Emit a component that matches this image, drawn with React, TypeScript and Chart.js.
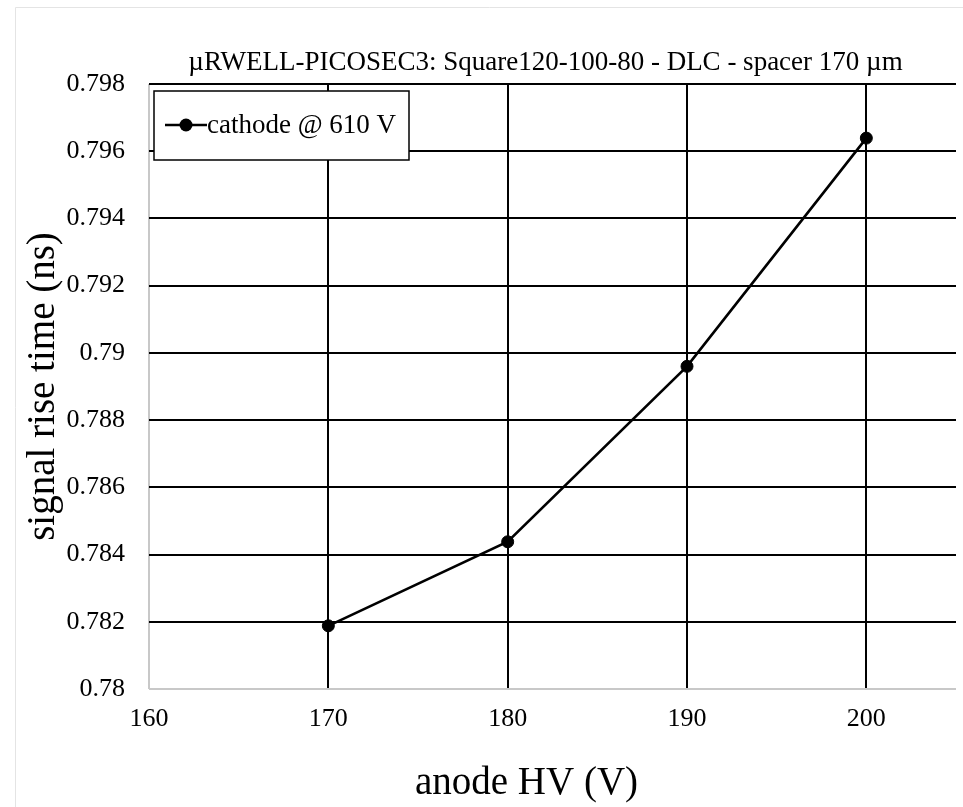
import React, { useEffect, useRef } from 'react';
import { Chart, registerables } from 'chart.js';

Chart.register(...registerables);

const chartTitle = 'µRWELL-PICOSEC3: Square120-100-80 - DLC - spacer 170 µm';
const xAxisTitle = 'anode HV (V)';
const yAxisTitle = 'signal rise time (ns)';
const seriesLabel = 'cathode @ 610 V';

const anodeHV = [170, 180, 190, 200];
const riseTime = [0.78188, 0.78438, 0.7896, 0.79639];

const xTicks = [160, 170, 180, 190, 200];
const xTickLabels = ['160', '170', '180', '190', '200'];
const yTicks = [0.78, 0.782, 0.784, 0.786, 0.788, 0.79, 0.792, 0.794, 0.796, 0.798];
const yTickLabels = ['0.78', '0.782', '0.784', '0.786', '0.788', '0.79', '0.792', '0.794', '0.796', '0.798'];

const X_MIN = 160;
const X_MAX = 205;
const Y_MIN = 0.78;
const Y_MAX = 0.798;

const FONT = '"Liberation Serif", "Times New Roman", serif';
const GRID = '#000000';
const AXIS = '#c8c8c8';

const overlay = {
  id: 'overlay',
  beforeDraw(chart: any) {
    const { ctx, width, height } = chart;
    ctx.save();
    ctx.fillStyle = '#ffffff';
    ctx.fillRect(0, 0, width, height);
    ctx.strokeStyle = '#e4e4e4';
    ctx.lineWidth = 1;
    ctx.beginPath();
    ctx.moveTo(15.5, height);
    ctx.lineTo(15.5, 7.5);
    ctx.lineTo(width, 7.5);
    ctx.stroke();
    ctx.restore();
  },
  afterDraw(chart: any) {
    const { ctx, chartArea } = chart;
    const midX = (chartArea.left + chartArea.right) / 2;
    const midY = (chartArea.top + chartArea.bottom) / 2;
    ctx.save();
    ctx.fillStyle = '#000';
    ctx.textBaseline = 'alphabetic';

    // chart title
    ctx.font = `27px ${FONT}`;
    ctx.textAlign = 'center';
    ctx.fillText(chartTitle, midX - 7, 70);

    // x axis title
    ctx.font = `39px ${FONT}`;
    ctx.fillText(xAxisTitle, midX - 26, 794);

    // y axis title
    ctx.save();
    ctx.translate(54, midY);
    ctx.rotate(-Math.PI / 2);
    ctx.textAlign = 'center';
    ctx.fillText(yAxisTitle, 0, 0);
    ctx.restore();

    // legend
    const bx = chartArea.left + 5;
    const by = chartArea.top + 7;
    const bw = 255;
    const bh = 69;
    ctx.fillStyle = '#fff';
    ctx.fillRect(bx, by, bw, bh);
    ctx.strokeStyle = '#000';
    ctx.lineWidth = 1.5;
    ctx.strokeRect(bx, by, bw, bh);
    const sy = by + 34;
    ctx.lineWidth = 2.5;
    ctx.beginPath();
    ctx.moveTo(bx + 11, sy);
    ctx.lineTo(bx + 53, sy);
    ctx.stroke();
    ctx.beginPath();
    ctx.arc(bx + 32, sy, 6.5, 0, Math.PI * 2);
    ctx.fillStyle = '#000';
    ctx.fill();
    ctx.font = `27px ${FONT}`;
    ctx.textAlign = 'left';
    ctx.fillText(chart.data.datasets[0].label, bx + 53, by + 42);
    ctx.restore();
  },
};

export default function App() {
  const canvasRef = useRef<HTMLCanvasElement | null>(null);

  useEffect(() => {
    const canvas = canvasRef.current;
    if (!canvas) return;
    const chart = new Chart(canvas, {
      type: 'line',
      data: {
        datasets: [
          {
            label: seriesLabel,
            data: anodeHV.map((x, i) => ({ x, y: riseTime[i] })),
            borderColor: '#000',
            backgroundColor: '#000',
            borderWidth: 2.6,
            pointRadius: 6,
            pointBorderWidth: 1,
            pointBackgroundColor: '#000',
            pointBorderColor: '#000',
            tension: 0,
            fill: false,
          },
        ],
      },
      options: {
        responsive: false,
        animation: false,
        devicePixelRatio: 1,
        layout: { padding: { top: 84, left: 0, right: 1, bottom: 0 } },
        plugins: {
          legend: { display: false },
          title: { display: false },
          tooltip: { enabled: false },
        },
        scales: {
          x: {
            type: 'linear',
            min: X_MIN,
            max: X_MAX,
            afterBuildTicks: (scale: any) => {
              scale.ticks = xTicks.map((v) => ({ value: v }));
            },
            afterFit: (scale: any) => {
              scale.height = 118;
            },
            ticks: {
              autoSkip: false,
              maxRotation: 0,
              padding: 15,
              color: '#000',
              font: { family: FONT, size: 26 },
              callback: (_v: any, i: number) => xTickLabels[i],
            },
            grid: {
              drawTicks: false,
              lineWidth: 2,
              color: (c: any) => (c.index === 0 ? AXIS : GRID),
            },
            border: { display: false },
          },
          y: {
            type: 'linear',
            min: Y_MIN,
            max: Y_MAX,
            afterBuildTicks: (scale: any) => {
              scale.ticks = yTicks.map((v) => ({ value: v }));
            },
            afterFit: (scale: any) => {
              scale.width = 149;
            },
            ticks: {
              autoSkip: false,
              padding: 24,
              color: '#000',
              font: { family: FONT, size: 26 },
              callback: (_v: any, i: number) => yTickLabels[i],
            },
            grid: {
              drawTicks: false,
              lineWidth: 2,
              color: (c: any) => (c.index === 0 ? AXIS : GRID),
            },
            border: { display: false },
          },
        },
      },
      plugins: [overlay],
    });
    return () => chart.destroy();
  }, []);

  return (
    <div style={{ position: 'fixed', left: 0, top: 0, width: 963, height: 807, background: '#fff' }}>
      <canvas ref={canvasRef} width={963} height={807} style={{ width: 963, height: 807, display: 'block' }} />
    </div>
  );
}
